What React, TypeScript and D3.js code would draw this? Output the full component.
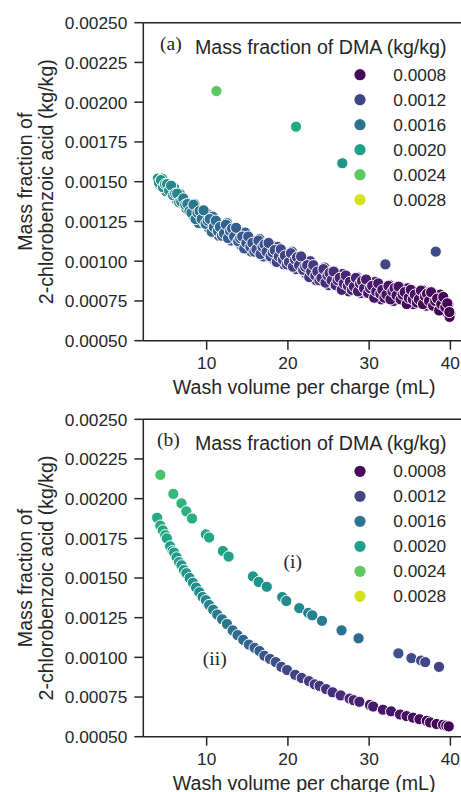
import React from 'react';
import * as d3 from 'd3';

// ---------- data ----------
const xTicks = [10, 20, 30, 40];
const yTicks = [0.0005, 0.00075, 0.001, 0.00125, 0.0015, 0.00175, 0.002, 0.00225, 0.0025];
const legendValues = [0.0008, 0.0012, 0.0016, 0.002, 0.0024, 0.0028];
const legendTitle = 'Mass fraction of DMA (kg/kg)';
const xLabel = 'Wash volume per charge (mL)';
const yLabel1 = 'Mass fraction of';
const yLabel2 = '2-chlorobenzoic acid (kg/kg)';

// [wash volume (mL), mass fraction 2-CBA, mass fraction DMA]
const panelABand: [number, number, number][] = [
  [4.0, 0.00152, 0.00188], [4.25, 0.00148, 0.00186], [4.5, 0.00152, 0.00187], [4.75, 0.00147, 0.00184],
  [5.0, 0.00144, 0.00181], [5.25, 0.00148, 0.00182], [5.5, 0.00145, 0.00179], [5.75, 0.00142, 0.00177],
  [6.0, 0.00146, 0.00177], [6.25, 0.00139, 0.00173], [6.5, 0.00142, 0.00174], [6.75, 0.00142, 0.00173],
  [7.0, 0.00137, 0.00169], [7.25, 0.00139, 0.00169], [7.5, 0.00133, 0.00165], [7.75, 0.00135, 0.00165],
  [8.0, 0.00135, 0.00164], [8.25, 0.00129, 0.00161], [8.5, 0.00136, 0.00163], [8.75, 0.00129, 0.00159],
  [9.0, 0.00124, 0.00156], [9.25, 0.00131, 0.00158], [9.5, 0.00127, 0.00155], [9.75, 0.00124, 0.00153],
  [10.0, 0.0013, 0.00155], [10.25, 0.00121, 0.0015], [10.5, 0.00125, 0.00151], [10.75, 0.00128, 0.00152],
  [11.0, 0.0012, 0.00148], [11.25, 0.00124, 0.00149], [11.5, 0.00116, 0.00145], [11.75, 0.00121, 0.00146],
  [12.0, 0.00122, 0.00146], [12.25, 0.00116, 0.00143], [12.5, 0.00124, 0.00145], [12.75, 0.00117, 0.00142],
  [13.0, 0.00113, 0.00139], [13.25, 0.0012, 0.00141], [13.5, 0.00116, 0.00139], [13.75, 0.00113, 0.00137],
  [14.0, 0.00119, 0.00139], [14.25, 0.0011, 0.00135], [14.5, 0.00114, 0.00136], [14.75, 0.00118, 0.00137],
  [15.0, 0.0011, 0.00133], [15.25, 0.00114, 0.00134], [15.5, 0.00106, 0.0013], [15.75, 0.00111, 0.00131],
  [16.0, 0.00112, 0.00132], [16.25, 0.00106, 0.00129], [16.5, 0.00114, 0.00131], [16.75, 0.00107, 0.00128],
  [17.0, 0.00103, 0.00126], [17.25, 0.0011, 0.00128], [17.5, 0.00107, 0.00126], [17.75, 0.00103, 0.00124],
  [18.0, 0.0011, 0.00127], [18.25, 0.00101, 0.00122], [18.5, 0.00106, 0.00124], [18.75, 0.00109, 0.00125],
  [19.0, 0.00102, 0.00121], [19.25, 0.00106, 0.00122], [19.5, 0.00098, 0.00119], [19.75, 0.00103, 0.0012],
  [20.0, 0.00104, 0.0012], [20.25, 0.00098, 0.00117], [20.5, 0.00106, 0.0012], [20.75, 0.00099, 0.00116],
  [21.0, 0.00095, 0.00114], [21.25, 0.00102, 0.00116], [21.5, 0.00098, 0.00114], [21.75, 0.00095, 0.00112],
  [22.0, 0.00101, 0.00115], [22.25, 0.00092, 0.0011], [22.5, 0.00096, 0.00111], [22.75, 0.001, 0.00113],
  [23.0, 0.00092, 0.00109], [23.25, 0.00096, 0.0011], [23.5, 0.00088, 0.00106], [23.75, 0.00093, 0.00107],
  [24.0, 0.00094, 0.00107], [24.25, 0.00088, 0.00104], [24.5, 0.00096, 0.00106], [24.75, 0.00089, 0.00103],
  [25.0, 0.00085, 0.00101], [25.25, 0.00092, 0.00103], [25.5, 0.00089, 0.00101], [25.75, 0.00085, 0.00099],
  [26.0, 0.00092, 0.00102], [26.25, 0.00084, 0.00098], [26.5, 0.00088, 0.00099], [26.75, 0.00092, 0.001],
  [27.0, 0.00085, 0.00096], [27.25, 0.0009, 0.00097], [27.5, 0.00081, 0.00094], [27.75, 0.00087, 0.00096],
  [28.0, 0.00088, 0.00096], [28.25, 0.00083, 0.00094], [28.5, 0.0009, 0.00096], [28.75, 0.00084, 0.00093],
  [29.0, 0.0008, 0.00091], [29.25, 0.00087, 0.00093], [29.5, 0.00084, 0.00092], [29.75, 0.0008, 0.0009],
  [30.0, 0.00087, 0.00092], [30.25, 0.00079, 0.00089], [30.5, 0.00083, 0.0009], [30.75, 0.00087, 0.00091],
  [31.0, 0.0008, 0.00088], [31.25, 0.00085, 0.00089], [31.5, 0.00076, 0.00086], [31.75, 0.00082, 0.00088],
  [32.0, 0.00083, 0.00088], [32.25, 0.00078, 0.00086], [32.5, 0.00085, 0.00088], [32.75, 0.00079, 0.00086],
  [33.0, 0.00075, 0.00084], [33.25, 0.00083, 0.00086], [33.5, 0.00079, 0.00085], [33.75, 0.00076, 0.00084],
  [34.0, 0.00083, 0.00086], [34.25, 0.00075, 0.00083], [34.5, 0.00079, 0.00084], [34.75, 0.00083, 0.00085],
  [35.0, 0.00076, 0.00083], [35.25, 0.00081, 0.00084], [35.5, 0.00073, 0.00082], [35.75, 0.00079, 0.00083],
  [36.0, 0.0008, 0.00082], [36.25, 0.00075, 0.0008], [36.5, 0.00082, 0.00082], [36.75, 0.00076, 0.0008],
  [37.0, 0.00072, 0.00078], [37.25, 0.00079, 0.0008], [37.5, 0.00076, 0.00079], [37.75, 0.00072, 0.00078],
  [38.0, 0.00079, 0.0008], [38.25, 0.00071, 0.00077], [38.5, 0.00075, 0.00078], [38.75, 0.00079, 0.00079],
  [39.0, 0.00072, 0.00077], [39.25, 0.00076, 0.00078], [39.5, 0.00068, 0.00075], [39.75, 0.00073, 0.00076],
  [40.0, 0.00067, 0.00075], [39.9, 0.00065, 0.00075],
];
const panelABandB: [number, number, number][] = [
  [4.125, 0.001495, 0.00187], [4.375, 0.00151, 0.00187], [4.625, 0.001465, 0.00184], [4.875, 0.001485, 0.00184],
  [5.125, 0.001485, 0.00183], [5.375, 0.001445, 0.0018], [5.625, 0.001475, 0.0018], [5.875, 0.001415, 0.00176],
  [6.125, 0.001425, 0.00176], [6.375, 0.001425, 0.00175], [6.625, 0.00137, 0.00171], [6.875, 0.001375, 0.0017],
  [7.125, 0.001395, 0.0017], [7.375, 0.001355, 0.00167], [7.625, 0.00136, 0.00166], [7.875, 0.001315, 0.00163],
  [8.125, 0.001305, 0.00161], [8.375, 0.001355, 0.00162], [8.625, 0.001265, 0.00158], [8.875, 0.001305, 0.00158],
  [9.125, 0.001315, 0.00158], [9.375, 0.001265, 0.00155], [9.625, 0.00132, 0.00156], [9.875, 0.001235, 0.00152],
  [10.125, 0.001255, 0.00153], [10.375, 0.001265, 0.00152], [10.625, 0.001185, 0.00148], [10.875, 0.001215, 0.00149],
  [11.125, 0.001255, 0.0015], [11.375, 0.00119, 0.00147], [11.625, 0.001215, 0.00147], [11.875, 0.00116, 0.00144],
  [12.125, 0.001175, 0.00144], [12.375, 0.00123, 0.00145], [12.625, 0.001145, 0.00141], [12.875, 0.00119, 0.00142],
  [13.125, 0.001205, 0.00142], [13.375, 0.001155, 0.00139], [13.625, 0.00121, 0.00141], [13.875, 0.001125, 0.00137],
  [14.125, 0.001145, 0.00137], [14.375, 0.001155, 0.00137], [14.625, 0.00108, 0.00133], [14.875, 0.001115, 0.00134],
  [15.125, 0.001155, 0.00135], [15.375, 0.00109, 0.00132], [15.625, 0.001115, 0.00132], [15.875, 0.00106, 0.00129],
  [16.125, 0.001075, 0.00129], [16.375, 0.00113, 0.00131], [16.625, 0.001045, 0.00127], [16.875, 0.00109, 0.00128],
  [17.125, 0.001105, 0.00128], [17.375, 0.00106, 0.00126], [17.625, 0.001115, 0.00127], [17.875, 0.00103, 0.00123],
  [18.125, 0.001055, 0.00124], [18.375, 0.00107, 0.00124], [18.625, 0.000995, 0.0012], [18.875, 0.00103, 0.00121],
  [19.125, 0.001075, 0.00123], [19.375, 0.00101, 0.0012], [19.625, 0.001035, 0.0012], [19.875, 0.00098, 0.00117],
  [20.125, 0.000995, 0.00117], [20.375, 0.00105, 0.00119], [20.625, 0.000965, 0.00115], [20.875, 0.00101, 0.00116],
  [21.125, 0.001025, 0.00116], [21.375, 0.000975, 0.00113], [21.625, 0.00103, 0.00115], [21.875, 0.000945, 0.00111],
  [22.125, 0.000965, 0.00111], [22.375, 0.000975, 0.00111], [22.625, 0.0009, 0.00107], [22.875, 0.000935, 0.00108],
  [23.125, 0.000975, 0.0011], [23.375, 0.00091, 0.00107], [23.625, 0.000935, 0.00107], [23.875, 0.00088, 0.00104],
  [24.125, 0.000895, 0.00104], [24.375, 0.00095, 0.00106], [24.625, 0.000865, 0.00102], [24.875, 0.00091, 0.00103],
  [25.125, 0.000925, 0.00103], [25.375, 0.00088, 0.00101], [25.625, 0.000935, 0.00102], [25.875, 0.00085, 0.00098],
  [26.125, 0.00088, 0.00099], [26.375, 0.000895, 0.00099], [26.625, 0.00082, 0.00095], [26.875, 0.00086, 0.00096],
  [27.125, 0.00091, 0.00098], [27.375, 0.000845, 0.00095], [27.625, 0.00087, 0.00095], [27.875, 0.00082, 0.00093],
  [28.125, 0.00084, 0.00094], [28.375, 0.000895, 0.00096], [28.625, 0.00081, 0.00092], [28.875, 0.00086, 0.00093],
  [29.125, 0.000875, 0.00093], [29.375, 0.00083, 0.00091], [29.625, 0.000885, 0.00093], [29.875, 0.0008, 0.00089],
  [30.125, 0.00083, 0.0009], [30.375, 0.000845, 0.0009], [30.625, 0.00077, 0.00087], [30.875, 0.00081, 0.00088],
  [31.125, 0.00086, 0.00089], [31.375, 0.000795, 0.00087], [31.625, 0.00082, 0.00087], [31.875, 0.00077, 0.00085],
  [32.125, 0.00079, 0.00086], [32.375, 0.000845, 0.00087], [32.625, 0.00076, 0.00084], [32.875, 0.00081, 0.00085],
  [33.125, 0.00083, 0.00086], [33.375, 0.000785, 0.00084], [33.625, 0.00084, 0.00086], [33.875, 0.00076, 0.00083],
  [34.125, 0.00079, 0.00084], [34.375, 0.000805, 0.00084], [34.625, 0.00073, 0.00081], [34.875, 0.00077, 0.00082],
  [35.125, 0.00082, 0.00084], [35.375, 0.00076, 0.00082], [35.625, 0.00079, 0.00082], [35.875, 0.00074, 0.0008],
  [36.125, 0.00076, 0.0008], [36.375, 0.000815, 0.00082], [36.625, 0.00073, 0.00079], [36.875, 0.00078, 0.0008],
  [37.125, 0.000795, 0.0008], [37.375, 0.00075, 0.00078], [37.625, 0.000805, 0.0008], [37.875, 0.00072, 0.00077],
  [38.125, 0.00075, 0.00078], [38.375, 0.000765, 0.00078], [38.625, 0.00069, 0.00076], [38.875, 0.00073, 0.00077],
  [39.125, 0.000775, 0.00078], [39.375, 0.00071, 0.00076], [39.625, 0.000735, 0.00076], [39.875, 0.00068, 0.00075],
];
const panelAOutliers: [number, number, number][] = [
  [11.2, 0.00207, 0.0024], [21.0, 0.001846, 0.00208], [26.7, 0.001616, 0.0019],
  [32.0, 0.00098, 0.00122], [38.2, 0.00106, 0.00124],
];
const panelBCurveI: [number, number, number][] = [
  [4.3, 0.00215, 0.00232], [5.9, 0.00203, 0.00222], [6.9, 0.00197, 0.00218], [7.5, 0.00192, 0.00216],
  [8.2, 0.001875, 0.00214], [9.9, 0.001775, 0.00208], [10.3, 0.001755, 0.00207], [12.0, 0.00167, 0.00201],
  [12.7, 0.001635, 0.00199], [15.7, 0.00151, 0.00191], [16.4, 0.001475, 0.00189], [17.4, 0.001445, 0.00187],
  [19.3, 0.00138, 0.00183], [19.8, 0.001355, 0.00181], [21.4, 0.00131, 0.00176], [22.5, 0.00128, 0.00172],
  [23.0, 0.001265, 0.0017], [24.2, 0.00123, 0.00165], [26.6, 0.00117, 0.00157], [28.7, 0.00112, 0.0015],
  [33.6, 0.001025, 0.0013], [35.2, 0.000995, 0.00125], [36.4, 0.00098, 0.00122], [36.9, 0.00097, 0.00121],
  [38.6, 0.00094, 0.00118],
];
const panelBCurveII: [number, number, number][] = [
  [3.9, 0.00188, 0.0021], [4.3, 0.00183, 0.00208], [4.6, 0.0018, 0.00206], [4.9, 0.00177, 0.00205],
  [5.1, 0.00175, 0.00204], [5.5, 0.0017, 0.00202], [5.8, 0.00167, 0.002], [6.0, 0.00166, 0.00199],
  [6.3, 0.00163, 0.00197], [6.6, 0.0016, 0.00195], [6.9, 0.00158, 0.00194], [7.2, 0.00155, 0.00192],
  [7.5, 0.00153, 0.0019], [7.9, 0.0015, 0.00188], [8.3, 0.00147, 0.00186], [8.7, 0.00144, 0.00183],
  [9.1, 0.00141, 0.00181], [9.5, 0.00138, 0.00178], [9.9, 0.00136, 0.00176], [10.3, 0.00133, 0.00173],
  [10.8, 0.0013, 0.0017], [11.3, 0.00127, 0.00167], [11.9, 0.00124, 0.00163], [12.5, 0.00121, 0.0016],
  [13.2, 0.00117, 0.00156], [13.8, 0.00114, 0.00152], [14.5, 0.00111, 0.00148], [15.2, 0.00108, 0.00144],
  [15.9, 0.00106, 0.0014], [16.5, 0.00104, 0.00137], [17.1, 0.00101, 0.00134], [17.8, 0.00099, 0.0013],
  [18.5, 0.00097, 0.00127], [19.2, 0.00094, 0.00124], [19.9, 0.00092, 0.00122], [20.9, 0.00089, 0.00118],
  [21.7, 0.00087, 0.00115], [22.6, 0.00085, 0.00112], [23.3, 0.00083, 0.0011], [23.9, 0.00082, 0.00108],
  [24.7, 0.0008, 0.00106], [25.5, 0.00078, 0.00104], [26.5, 0.00076, 0.00101], [27.6, 0.00074, 0.00098],
  [28.1, 0.00073, 0.00097], [28.8, 0.00072, 0.00095], [30.1, 0.0007, 0.00092], [30.5, 0.00069, 0.00091],
  [31.7, 0.00067, 0.00089], [32.7, 0.00066, 0.00087], [33.8, 0.00064, 0.00085], [34.6, 0.00063, 0.00084],
  [35.4, 0.00062, 0.00083], [36.2, 0.00061, 0.00081], [37.1, 0.0006, 0.0008], [37.5, 0.00059, 0.0008],
  [38.3, 0.00058, 0.00079], [39.1, 0.000575, 0.00078], [39.5, 0.00057, 0.00077], [39.8, 0.000565, 0.00076],
];
const annotations = [
  { text: '(i)', x: 20.6, y: 0.0016 },
  { text: '(ii)', x: 11.0, y: 0.00099 },
];

// ---------- layout ----------
const W = 461;
const H = 792;
const LEFT = 143.3;
const RIGHT = 465;
const INK = '#262626';
const SANS = '"Liberation Sans", Arial, Helvetica, sans-serif';
const SERIF = '"Liberation Serif", "Times New Roman", serif';
const TICK_FS = 17.3;
const LABEL_FS = 19.6;

const xScale = d3.scaleLinear().domain([2.2, 41.8]).range([LEFT, RIGHT]);
const color = d3.scaleSequential(d3.interpolateViridis).domain([0.00075, 0.00295]);
const fmt = d3.format('.5f');

type Pt = [number, number, number];

function Panel({ top, bottom, tag, tagX, series, notes }: {
  top: number; bottom: number; tag: string; tagX: number; series: Pt[][];
  notes: { text: string; x: number; y: number }[];
}) {
  const y = d3.scaleLinear().domain([0.0005, 0.0025]).range([bottom, top]);
  const midY = (top + bottom) / 2;
  return (
    <g>
      {series.map((s, si) => (
        <g key={si}>
          {s.map((p, i) => (
            <circle key={i} cx={xScale(p[0])} cy={y(p[1])} r={5.6}
              fill={color(p[2])} stroke="#ffffff" strokeWidth={1} />
          ))}
        </g>
      ))}
      <line x1={LEFT} x2={LEFT} y1={top} y2={bottom} stroke={INK} strokeWidth={1.5} />
      <line x1={LEFT} x2={RIGHT} y1={bottom} y2={bottom} stroke={INK} strokeWidth={1.5} />
      <line x1={LEFT} x2={RIGHT} y1={top} y2={top} stroke={INK} strokeWidth={1.5} />
      <line x1={RIGHT} x2={RIGHT} y1={top} y2={bottom} stroke={INK} strokeWidth={1.5} />
      {yTicks.map((t) => (
        <g key={t}>
          <line x1={LEFT - 9} x2={LEFT} y1={y(t)} y2={y(t)} stroke={INK} strokeWidth={1.5} />
          <text x={LEFT - 16} y={y(t) + 6.4} textAnchor="end" fontFamily={SANS}
            fontSize={TICK_FS} fill={INK}>{fmt(t)}</text>
        </g>
      ))}
      {xTicks.map((t) => (
        <g key={t}>
          <line x1={xScale(t)} x2={xScale(t)} y1={bottom} y2={bottom + 9} stroke={INK} strokeWidth={1.5} />
          <text x={xScale(t)} y={bottom + 28.3} textAnchor="middle" fontFamily={SANS}
            fontSize={TICK_FS} fill={INK}>{t}</text>
        </g>
      ))}
      <text x={(LEFT + RIGHT) / 2} y={bottom + 52.8} textAnchor="middle" fontFamily={SANS}
        fontSize={LABEL_FS} fill={INK}>{xLabel}</text>
      <text transform={`translate(31.7, ${midY}) rotate(-90)`} textAnchor="middle"
        fontFamily={SANS} fontSize={LABEL_FS} fill={INK}>{yLabel1}</text>
      <text transform={`translate(53.3, ${midY}) rotate(-90)`} textAnchor="middle"
        fontFamily={SANS} fontSize={LABEL_FS} fill={INK}>{yLabel2}</text>
      <text x={tagX} y={top + 27} fontFamily={SERIF} fontSize={19.5} fill={INK}>{tag}</text>
      <text x={195} y={top + 30.8} fontFamily={SANS} fontSize={LABEL_FS} fill={INK}>{legendTitle}</text>
      {legendValues.map((v, i) => (
        <g key={v}>
          <circle cx={360} cy={top + 52 + 25 * i} r={5.6} fill={color(v)} />
          <text x={393.3} y={top + 58 + 25 * i} fontFamily={SANS} fontSize={TICK_FS} fill={INK}>
            {v.toFixed(4)}
          </text>
        </g>
      ))}
      {notes.map((n) => (
        <text key={n.text} x={xScale(n.x)} y={y(n.y) + 6} textAnchor="middle" fontFamily={SERIF}
          fontSize={19.5} fill={INK}>{n.text}</text>
      ))}
    </g>
  );
}

export default function App() {
  return (
    <svg width={W} height={H} style={{ position: 'absolute', left: 0, top: 0, background: '#fff' }}>
      <rect x={0} y={0} width={W} height={H} fill="#ffffff" />
      <Panel top={22.7} bottom={340.7} tag="(a)" tagX={160}
        series={[panelABand, panelABandB, panelAOutliers]} notes={[]} />
      <Panel top={419.3} bottom={736.7} tag="(b)" tagX={157}
        series={[panelBCurveI, panelBCurveII]} notes={annotations} />
    </svg>
  );
}
